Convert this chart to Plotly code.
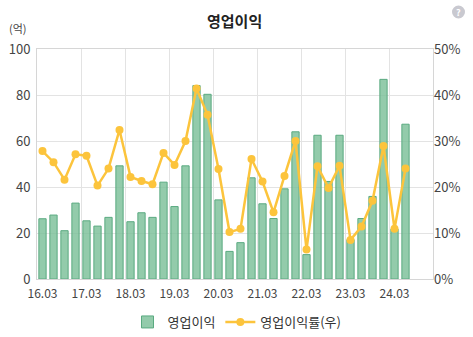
import plotly.graph_objects as go

quarters = [f"{y}.{m}" for y in range(16, 25) for m in ("03", "06", "09", "12")][:34]
op_profit = [26.2, 27.8, 21.0, 33.0, 25.3, 23.0, 26.8, 49.2, 24.9, 28.8,
             26.8, 42.1, 31.5, 49.2, 84.1, 80.3, 34.4, 12.0, 15.8, 44.0,
             32.7, 26.3, 39.2, 64.0, 10.6, 62.5, 42.4, 62.5, 17.1, 26.3,
             35.9, 86.8, 21.7, 67.3]
op_margin = [27.8, 25.4, 21.6, 27.1, 26.8, 20.3, 24.0, 32.4, 22.2, 21.3,
             20.6, 27.4, 24.8, 30.0, 41.4, 35.7, 23.9, 10.2, 10.9, 26.1,
             21.2, 14.5, 22.4, 30.0, 6.4, 24.5, 19.8, 24.6, 8.5, 11.4,
             17.0, 28.9, 10.9, 24.0]
tick_labels = ["16.03", "17.03", "18.03", "19.03", "20.03", "21.03", "22.03", "23.03", "24.03"]

idx = list(range(len(quarters)))
tick_pos = [quarters.index(t) for t in tick_labels]

font = "Noto Sans CJK KR, Noto Sans, sans-serif"
grid = "#e3e3e3"

L, R, T, B = 37, 40, 49, 58
PW, PH = 473 - L - R, 337 - T - B


def px(x):
    return (x - L) / PW


def py(y):
    return (337 - B - y) / PH


fig = go.Figure()
fig.add_trace(go.Bar(
    x=idx, y=op_profit, name="영업이익", width=0.66,
    marker=dict(color="rgba(120,190,150,0.8)", line=dict(color="#5aaa80", width=1)),
    customdata=quarters,
))
fig.add_trace(go.Scatter(
    x=idx, y=op_margin, name="영업이익률(우)", yaxis="y2", mode="lines+markers",
    line=dict(color="#fcc43c", width=2.5), marker=dict(color="#fcc43c", size=8),
    customdata=quarters,
))

fig.update_layout(
    width=473, height=337,
    margin=dict(l=L, r=R, t=T, b=B, autoexpand=False),
    paper_bgcolor="white", plot_bgcolor="white",
    font=dict(family=font, size=12, color="#444"),
    showlegend=True,
    legend=dict(orientation="h", x=px(237), xanchor="center",
                y=py(307), yanchor="top", font=dict(size=13, color="#333"),
                itemwidth=30),
    xaxis=dict(
        range=[-0.5, 35.5], tickmode="array", tickvals=tick_pos, ticktext=tick_labels,
        tickangle=0, showgrid=False, showline=True, linecolor="#d6d6d6", mirror=True,
        ticks="", tickfont=dict(size=12, color="#444"), zeroline=False, ticklabelstandoff=4,
        minor=dict(tickmode="linear", tick0=-0.5, dtick=4, showgrid=True, gridcolor=grid, ticks=""),
    ),
    yaxis=dict(
        range=[0, 100], dtick=20, showgrid=True, gridcolor=grid, zeroline=False,
        showline=True, linecolor="#d6d6d6", mirror=True, ticks="", ticklabelstandoff=3,
        tickfont=dict(size=13, color="#444"),
    ),
    yaxis2=dict(
        range=[0, 50], dtick=10, ticksuffix="%", overlaying="y", side="right",
        showgrid=False, zeroline=False, ticks="", tickfont=dict(size=13, color="#444"),
    ),
    annotations=[
        dict(text="<b>영업이익</b>", x=px(234), y=py(20), xref="paper", yref="paper",
             showarrow=False, font=dict(size=15, color="#222"), xanchor="center", yanchor="middle"),
        dict(text="(억)", x=px(18), y=py(28), xref="paper", yref="paper", showarrow=False,
             font=dict(size=11, color="#444"), xanchor="center", yanchor="middle"),
    ],
)
fig.add_shape(type="circle", xref="paper", yref="paper",
              x0=px(452), x1=px(465), y0=py(18.5), y1=py(5.5),
              fillcolor="#c9c9d0", line=dict(width=0))
fig.add_annotation(text="<b>?</b>", x=px(458.5), y=py(12),
                   xref="paper", yref="paper", showarrow=False,
                   font=dict(size=9, color="white"), xanchor="center", yanchor="middle")

fig.write_html("out.html")
